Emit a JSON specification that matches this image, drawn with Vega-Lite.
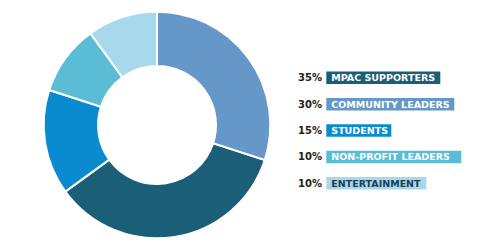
{
  "$schema": "https://vega.github.io/schema/vega-lite/v6.json",
  "padding": {"left": 39, "top": 7, "right": 0, "bottom": 0},
  "background": "white",
  "spacing": 17,
  "config": {"view": {"stroke": null}, "text": {"font": "DejaVu Sans"}},
  "data": {"values": [
    {"label": "MPAC SUPPORTERS", "pct": 35, "rank": 1, "slice": 2},
    {"label": "COMMUNITY LEADERS", "pct": 30, "rank": 2, "slice": 1},
    {"label": "STUDENTS", "pct": 15, "rank": 3, "slice": 3},
    {"label": "NON-PROFIT LEADERS", "pct": 10, "rank": 4, "slice": 4},
    {"label": "ENTERTAINMENT", "pct": 10, "rank": 5, "slice": 5}
  ]},
  "hconcat": [
    {
      "width": 230,
      "height": 230,
      "mark": {"type": "arc", "outerRadius": 113.3, "innerRadius": 59, "stroke": "white", "strokeWidth": 2},
      "encoding": {
        "theta": {"field": "pct", "type": "quantitative", "stack": true},
        "order": {"field": "slice", "type": "quantitative"},
        "color": {
          "field": "label", "type": "nominal", "legend": null,
          "scale": {
            "domain": ["MPAC SUPPORTERS", "COMMUNITY LEADERS", "STUDENTS", "NON-PROFIT LEADERS", "ENTERTAINMENT"],
            "range": ["#1b5e77", "#6597c9", "#0a8bd0", "#5bbcd6", "#a8d8ec"]
          }
        }
      }
    },
    {
      "width": 200,
      "height": 230,
      "transform": [
        {"calculate": "datum.pct + '%'", "as": "pctText"},
        {"calculate": "34.3", "as": "boxStart"},
        {"calculate": "39.3 + 7 * length(datum.label) + 4", "as": "boxEnd"}
      ],
      "encoding": {
        "y": {
          "field": "label", "type": "nominal", "sort": {"field": "rank"}, "axis": null,
          "scale": {"type": "band", "range": [61.5, 179.6], "paddingInner": 0.527, "paddingOuter": 0}
        }
      },
      "layer": [
        {
          "mark": {"type": "bar"},
          "encoding": {
            "x": {"field": "boxStart", "type": "quantitative", "axis": null, "scale": {"domain": [0, 200], "range": [0, 200], "nice": false, "zero": false}},
            "x2": {"field": "boxEnd"},
            "color": {"field": "label", "type": "nominal", "legend": null}
          }
        },
        {
          "mark": {"type": "text", "align": "left", "baseline": "middle", "fontWeight": "bold", "fontSize": 10, "color": "#222222", "dy": 0.5},
          "encoding": {
            "x": {"datum": 6, "type": "quantitative"},
            "text": {"field": "pctText", "type": "nominal"}
          }
        },
        {
          "mark": {"type": "text", "align": "left", "baseline": "middle", "fontWeight": "bold", "fontSize": 9.5, "dy": 0.5},
          "encoding": {
            "x": {"datum": 39.3, "type": "quantitative"},
            "text": {"field": "label", "type": "nominal"},
            "color": {"condition": {"test": "datum.label === 'ENTERTAINMENT'", "value": "#1e3d4f"}, "value": "#ffffff"}
          }
        }
      ]
    }
  ]
}
